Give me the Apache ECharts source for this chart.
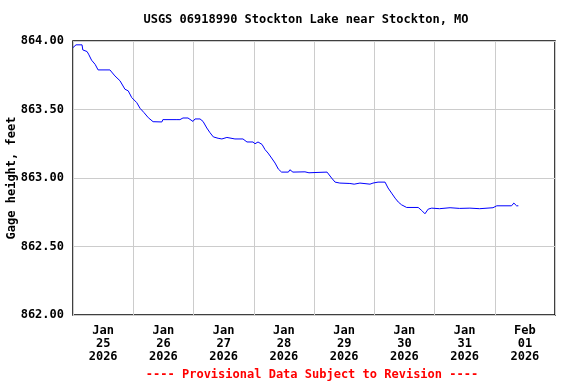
<!DOCTYPE html>
<html>
<head>
<meta charset="utf-8">
<script src="https://cdn.jsdelivr.net/npm/echarts@6/dist/echarts.min.js"></script>
<style>
html,body{margin:0;padding:0;background:#fff;}
#chart{width:576px;height:384px;}
</style>
</head>
<body>
<div id="chart"></div>
<script>
// Hours since Jan 25 2026 00:00
const hours = [0,1.2,3.6,3.9,5.6,6.2,7.4,8.8,10.0,14.7,15.4,16.7,18.7,20.7,22.0,23.4,25.4,26.7,28.3,30.0,31.9,35.4,35.8,41.4,41.8,42.6,43.8,45.8,47.8,48.6,50.6,51.8,53.3,54.6,55.9,57.8,59.3,61.3,64.5,67.7,69.3,71.7,72.5,73.7,75.3,76.5,77.7,79.1,80.5,81.8,83.1,85.8,86.4,87.6,92.4,94.0,96.4,101.2,101.7,103.0,104.4,106.3,110.3,112.0,114.3,118.3,119.5,121.5,124.3,125.5,126.9,128.3,129.6,130.9,132.9,137.5,138.9,140.2,141.5,142.9,146.0,150.2,154.0,158.1,162.0,167.3,168.8,174.7,175.6,176.7,177.4];
const heights = [863.952,863.972,863.972,863.935,863.923,863.904,863.86,863.83,863.789,863.789,863.782,863.745,863.71,863.648,863.636,863.587,863.55,863.509,863.477,863.44,863.411,863.409,863.426,863.426,863.413,863.426,863.438,863.438,863.413,863.431,863.431,863.413,863.365,863.33,863.30,863.29,863.285,863.296,863.285,863.285,863.263,863.263,863.25,863.263,863.245,863.207,863.182,863.146,863.109,863.065,863.043,863.043,863.06,863.043,863.045,863.038,863.04,863.043,863.035,863.0,862.97,862.963,862.96,862.955,862.963,862.955,862.963,862.97,862.97,862.927,862.89,862.853,862.824,862.804,862.785,862.785,862.763,862.739,862.773,862.78,862.776,862.783,862.778,862.78,862.776,862.783,862.797,862.797,862.817,862.797,862.797];
const dayLabels = ['Jan\n25\n2026','Jan\n26\n2026','Jan\n27\n2026','Jan\n28\n2026','Jan\n29\n2026','Jan\n30\n2026','Jan\n31\n2026','Feb\n01\n2026'];
const yTicks = [862, 862.5, 863, 863.5, 864];
const titleText = 'USGS 06918990 Stockton Lake near Stockton, MO';
const footerText = '---- Provisional Data Subject to Revision ----';
const yName = 'Gage height, feet';

const FONT = 'DejaVu Sans Mono';
const chart = echarts.init(document.getElementById('chart'), null, {renderer:'canvas'});
const data = hours.map((h,i)=>[h, heights[i]]);

chart.setOption({
  animation:false,
  backgroundColor:'#fff',
  grid:{left:73, top:41, width:482, height:274, containLabel:false, outerBoundsMode:'none',
        show:true, borderColor:'#000', borderWidth:1.5, backgroundColor:'transparent'},
  graphic:[
    {type:'text', x:306, y:20, style:{text:titleText, font:'bold 12px "'+FONT+'"', fill:'#000', textAlign:'center', textVerticalAlign:'middle'}},
    {type:'text', x:312, y:375, style:{text:footerText, font:'bold 12px "'+FONT+'"', fill:'#ff0000', textAlign:'center', textVerticalAlign:'middle'}}
  ],
  xAxis:[
    {type:'value', min:0, max:192, interval:12,
     axisLine:{show:false}, axisTick:{show:false}, splitLine:{show:false},
     axisLabel:{margin:9, lineHeight:13, fontSize:12, fontWeight:'bold', fontFamily:FONT, color:'#000',
       formatter:function(v){ if (v%24===12) return dayLabels[(v-12)/24]; return ''; }}},
    {type:'value', min:0, max:192, interval:24, position:'bottom',
     axisLine:{show:false}, axisTick:{show:false}, axisLabel:{show:false},
     splitLine:{show:true, lineStyle:{color:'#cccccc', width:1}}}
  ],
  yAxis:{type:'value', min:yTicks[0], max:yTicks[yTicks.length-1], interval:0.5,
    axisLine:{show:false}, axisTick:{show:false},
    splitLine:{show:true, lineStyle:{color:'#cccccc', width:1}},
    axisLabel:{margin:9, fontSize:12, fontWeight:'bold', fontFamily:FONT, color:'#000', formatter:function(v){return v.toFixed(2);}},
    name:yName, nameLocation:'middle', nameGap:55, nameRotate:90, nameMoveOverlap:false,
    nameTextStyle:{fontSize:12, fontWeight:'bold', fontFamily:FONT, color:'#000'}},
  series:[{type:'line', data:data, showSymbol:false, symbol:'none', xAxisIndex:0,
    lineStyle:{color:'#0000ff', width:1}, itemStyle:{color:'#0000ff'}}]
});
</script>
</body>
</html>
